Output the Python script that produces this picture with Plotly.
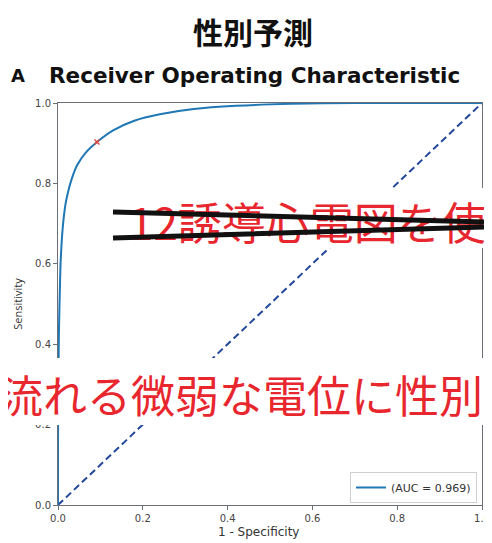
import plotly.graph_objects as go

# ---- data ----
fpr = [0.0, 0.0, 0.001, 0.002, 0.004, 0.006, 0.009, 0.013, 0.018, 0.024, 0.032,
       0.045, 0.065, 0.092, 0.13, 0.18, 0.24, 0.32, 0.42, 0.55, 0.7, 0.85, 1.0]
tpr = [0.0, 0.15, 0.3, 0.42, 0.52, 0.6, 0.66, 0.71, 0.75, 0.78, 0.81,
       0.845, 0.876, 0.903, 0.932, 0.956, 0.972, 0.985, 0.993, 0.998, 1.0, 1.0, 1.0]
chance_x = [0.0, 1.0]
chance_y = [0.0, 1.0]
op_fpr = [0.092]
op_tpr = [0.903]
auc_label = "(AUC = 0.969)"
tick_vals = [0.0, 0.2, 0.4, 0.6, 0.8, 1.0]
tick_text = ["0.0", "0.2", "0.4", "0.6", "0.8", "1.0"]
main_title = "性別予測"
panel_letter = "A"
panel_title = "Receiver Operating Characteristic"
x_title = "1 - Specificity"
y_title = "Sensitivity"
caption_top = "12誘導心電図を使"
caption_bottom = "流れる微弱な電位に性別"

# ---- geometry (screen pixels; the page body adds an 8px offset) ----
W, H = 492, 543
OFF = 8
L, T = 58, 103          # plot area top-left on screen
pw, ph = 424, 402        # plot area size
ml, mt = L - OFF, T - OFF
mr = W - ml - pw
mb = H - mt - ph


def px(x):
    return (x - L) / pw


def py(y):
    return (T + ph - y) / ph


fig = go.Figure()
fig.add_trace(go.Scatter(x=chance_x, y=chance_y, mode="lines",
                         line=dict(color="#23479a", width=2, dash="7px,4px"),
                         showlegend=False, hoverinfo="skip"))
fig.add_trace(go.Scatter(x=fpr, y=tpr, mode="lines", name=auc_label,
                         line=dict(color="#1f77b4", width=2, shape="spline", smoothing=0.6)))
fig.add_trace(go.Scatter(x=op_fpr, y=op_tpr, mode="markers",
                         marker=dict(symbol="x-thin", size=5, color="#e8483b",
                                     line=dict(width=1.5, color="#e8483b")),
                         showlegend=False))

axis_common = dict(range=[0, 1], tickvals=tick_vals, ticktext=tick_text,
                   showgrid=False, zeroline=False, showline=True, mirror=True,
                   linecolor="#6a6f78", linewidth=1, ticks="outside", ticklen=4,
                   tickcolor="#6a6f78", automargin=False,
                   tickfont=dict(family="DejaVu Sans", size=10, color="#444"))

fig.update_xaxes(**axis_common)
fig.update_yaxes(**axis_common,
                 title=dict(text=y_title, standoff=10,
                            font=dict(family="Open Sans", size=11, color="#333")))

# white caption bands over the chart
shapes = [
    dict(type="rect", xref="paper", yref="paper", x0=px(-5), x1=px(500),
         y0=py(425), y1=py(358), fillcolor="white", line=dict(width=0), layer="above"),
    dict(type="rect", xref="paper", yref="paper", x0=px(110), x1=px(500),
         y0=py(248), y1=py(188), fillcolor="white", line=dict(width=0), layer="above"),
]
annotations = [
    dict(text="<b>" + main_title + "</b>", x=px(253), y=py(31), xref="paper", yref="paper",
         xanchor="center", yanchor="middle", showarrow=False,
         font=dict(family="Noto Sans CJK JP", size=30, color="#111")),
    dict(text="<b>" + panel_letter + "</b>", x=px(9), y=py(76), xref="paper", yref="paper",
         xanchor="left", yanchor="middle", showarrow=False,
         font=dict(family="DejaVu Sans", size=18, color="#111")),
    dict(text="<b>" + panel_title + "</b>", x=px(47), y=py(76), xref="paper", yref="paper",
         xanchor="left", yanchor="middle", showarrow=False,
         font=dict(family="DejaVu Sans", size=21.5, color="#111")),
    dict(text=x_title, x=px(258), y=py(532), xref="paper", yref="paper",
         xanchor="center", yanchor="middle", showarrow=False,
         font=dict(family="DejaVu Sans", size=12, color="#333")),
    dict(text=caption_top, x=px(127), y=py(221), xref="paper", yref="paper",
         xanchor="left", yanchor="middle", showarrow=False,
         font=dict(family="Noto Sans CJK JP", size=44, color="#e8262e")),
    dict(text=caption_bottom, x=px(-3), y=py(394), xref="paper", yref="paper",
         xanchor="left", yanchor="middle", showarrow=False,
         font=dict(family="Noto Sans CJK JP", size=44, color="#e8262e")),
]
# strike-through lines over the top caption (arrow-only annotations, drawn after the text)
for (x_tip, y_tip, x_tail, y_tail) in [(113, 212, 505, 222.5), (113, 238, 505, 226.5)]:
    annotations.append(dict(
        text="", x=px(x_tip), y=py(y_tip), xref="x", yref="y",
        ax=px(x_tail), ay=py(y_tail), axref="x", ayref="y",
        showarrow=True, arrowhead=0, arrowwidth=5, arrowcolor="#111",
        standoff=0, startstandoff=0))

fig.update_layout(
    width=W, height=H, margin=dict(l=ml, r=mr, t=mt, b=mb),
    paper_bgcolor="white", plot_bgcolor="white",
    shapes=shapes, annotations=annotations,
    legend=dict(x=px(477), y=py(503), xanchor="right", yanchor="bottom",
                bgcolor="white", bordercolor="#d0d0d0", borderwidth=1,
                font=dict(family="DejaVu Sans", size=11, color="#333")),
)
fig.write_html("out.html")
